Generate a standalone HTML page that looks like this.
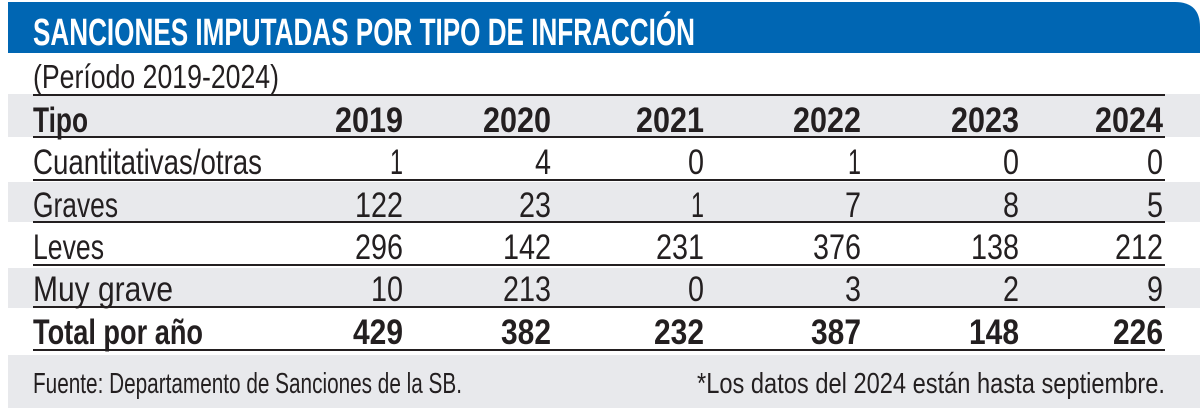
<!DOCTYPE html>
<html><head><meta charset="utf-8"><style>
html,body{margin:0;padding:0;background:#fff;}
svg{display:block;}
text{font-family:"Liberation Sans Narrow","Liberation Sans",sans-serif;fill:#231f20;}
.b{font-weight:bold;}
.n text{font-size:35px;text-anchor:end;}
</style></head><body>
<svg width="1200" height="411" viewBox="0 0 1200 411" xmlns="http://www.w3.org/2000/svg">
<path d="M8 2 H1175 Q1200 2 1200 27 V53 H8 Z" fill="#0066b3"/>
<text x="33" y="45" class="b" font-size="38" style="fill:#fff" textLength="662" lengthAdjust="spacingAndGlyphs">SANCIONES IMPUTADAS POR TIPO DE INFRACCIÓN</text>
<text x="33" y="88" font-size="33" textLength="246" lengthAdjust="spacingAndGlyphs">(Período 2019-2024)</text>
<rect x="8" y="94" width="1192" height="43" fill="#e8e9ec"/>
<rect x="8" y="182" width="1192" height="40" fill="#e8e9ec"/>
<rect x="8" y="268" width="1192" height="40" fill="#e8e9ec"/>
<rect x="8" y="355" width="1192" height="53" fill="#e8e9ec"/>
<g stroke="#231f20" stroke-width="2">
<line x1="33" y1="95" x2="1165" y2="95"/>
<line x1="33" y1="137" x2="1165" y2="137"/>
<line x1="33" y1="180" x2="1165" y2="180"/>
<line x1="33" y1="222" x2="1165" y2="222"/>
<line x1="33" y1="265" x2="1165" y2="265"/>
<line x1="33" y1="307" x2="1165" y2="307"/>
<line x1="33" y1="350" x2="1165" y2="350"/>
</g>
<text x="33" y="132" class="b" font-size="35" textLength="55" lengthAdjust="spacingAndGlyphs">Tipo</text>
<g class="b" font-size="35">
<text x="403" y="132" text-anchor="end" textLength="68" lengthAdjust="spacingAndGlyphs">2019</text>
<text x="551" y="132" text-anchor="end" textLength="68" lengthAdjust="spacingAndGlyphs">2020</text>
<text x="704" y="132" text-anchor="end" textLength="68" lengthAdjust="spacingAndGlyphs">2021</text>
<text x="861" y="132" text-anchor="end" textLength="68" lengthAdjust="spacingAndGlyphs">2022</text>
<text x="1019" y="132" text-anchor="end" textLength="68" lengthAdjust="spacingAndGlyphs">2023</text>
<text x="1163" y="132" text-anchor="end" textLength="68" lengthAdjust="spacingAndGlyphs">2024</text>
</g>
<g font-size="35">
<text x="33" y="174" textLength="229" lengthAdjust="spacingAndGlyphs">Cuantitativas/otras</text>
<text x="33" y="217" textLength="85" lengthAdjust="spacingAndGlyphs">Graves</text>
<text x="33" y="259" textLength="71" lengthAdjust="spacingAndGlyphs">Leves</text>
<text x="33" y="301" textLength="140" lengthAdjust="spacingAndGlyphs">Muy grave</text>
</g>
<g class="n">
<text x="403" y="174" textLength="13" lengthAdjust="spacingAndGlyphs">1</text><text x="551" y="174" textLength="16" lengthAdjust="spacingAndGlyphs">4</text><text x="704" y="174" textLength="16" lengthAdjust="spacingAndGlyphs">0</text><text x="861" y="174" textLength="13" lengthAdjust="spacingAndGlyphs">1</text><text x="1019" y="174" textLength="16" lengthAdjust="spacingAndGlyphs">0</text><text x="1163" y="174" textLength="16" lengthAdjust="spacingAndGlyphs">0</text>
<text x="403" y="217" textLength="48" lengthAdjust="spacingAndGlyphs">122</text><text x="551" y="217" textLength="32" lengthAdjust="spacingAndGlyphs">23</text><text x="704" y="217" textLength="13" lengthAdjust="spacingAndGlyphs">1</text><text x="861" y="217" textLength="16" lengthAdjust="spacingAndGlyphs">7</text><text x="1019" y="217" textLength="16" lengthAdjust="spacingAndGlyphs">8</text><text x="1163" y="217" textLength="16" lengthAdjust="spacingAndGlyphs">5</text>
<text x="403" y="259" textLength="48" lengthAdjust="spacingAndGlyphs">296</text><text x="551" y="259" textLength="48" lengthAdjust="spacingAndGlyphs">142</text><text x="704" y="259" textLength="48" lengthAdjust="spacingAndGlyphs">231</text><text x="861" y="259" textLength="48" lengthAdjust="spacingAndGlyphs">376</text><text x="1019" y="259" textLength="48" lengthAdjust="spacingAndGlyphs">138</text><text x="1163" y="259" textLength="48" lengthAdjust="spacingAndGlyphs">212</text>
<text x="403" y="301" textLength="32" lengthAdjust="spacingAndGlyphs">10</text><text x="551" y="301" textLength="48" lengthAdjust="spacingAndGlyphs">213</text><text x="704" y="301" textLength="16" lengthAdjust="spacingAndGlyphs">0</text><text x="861" y="301" textLength="16" lengthAdjust="spacingAndGlyphs">3</text><text x="1019" y="301" textLength="16" lengthAdjust="spacingAndGlyphs">2</text><text x="1163" y="301" textLength="16" lengthAdjust="spacingAndGlyphs">9</text>
</g>
<text x="33" y="344" class="b" font-size="35" textLength="170" lengthAdjust="spacingAndGlyphs">Total por año</text>
<g class="n b">
<text x="403" y="344" textLength="50" lengthAdjust="spacingAndGlyphs">429</text><text x="551" y="344" textLength="50" lengthAdjust="spacingAndGlyphs">382</text><text x="704" y="344" textLength="50" lengthAdjust="spacingAndGlyphs">232</text><text x="861" y="344" textLength="50" lengthAdjust="spacingAndGlyphs">387</text><text x="1019" y="344" textLength="50" lengthAdjust="spacingAndGlyphs">148</text><text x="1163" y="344" textLength="50" lengthAdjust="spacingAndGlyphs">226</text>
</g>
<text x="33" y="393" font-size="29" textLength="429" lengthAdjust="spacingAndGlyphs">Fuente: Departamento de Sanciones de la SB.</text>
<text x="1165" y="393" font-size="29" text-anchor="end" textLength="468" lengthAdjust="spacingAndGlyphs">*Los datos del 2024 están hasta septiembre.</text>
</svg>
</body></html>
